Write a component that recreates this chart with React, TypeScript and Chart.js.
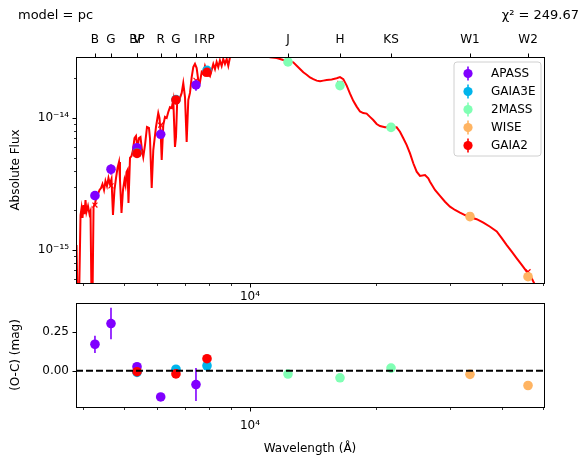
import React, { useEffect, useRef } from 'react';
import { Chart, registerables } from 'chart.js';

Chart.register(...registerables);

const FONT_FAMILY = "'DejaVu Sans', Verdana, sans-serif";
const TICK_SIZE = 12;
const TITLE_SIZE = 13;

// ---- axis ranges ----
const WAVE_MIN = 3844;
const WAVE_MAX = 50310;
const FLUX_MIN = 5.62e-16;
const FLUX_MAX = 2.9e-14;
const RES_MIN = -0.231;
const RES_MAX = 0.432;

// ---- ticks ----
const WAVE_TICKS = [10000];
const WAVE_TICK_LABELS = ['10⁴'];
const FLUX_TICKS = [1e-15, 1e-14];
const FLUX_TICK_LABELS = ['10⁻¹⁵', '10⁻¹⁴'];
const RES_TICKS = [0, 0.25];
const RES_TICK_LABELS = ['0.00', '0.25'];
const FILTER_NAMES = ['B', 'G', 'V', 'BP', 'R', 'G', 'I', 'RP', 'J', 'H', 'KS', 'W1', 'W2'];
const FILTER_WAVE = [4266, 4659, 5375, 5375, 6122, 6658, 7432, 7896, 12322, 16398, 21706, 33497, 46080];

// ---- texts ----
const MODEL_TEXT = 'model = pc';
const CHI2_TEXT = 'χ² = 249.67';
const Y_TITLE_TOP = 'Absolute Flux';
const Y_TITLE_BOTTOM = '(O-C) (mag)';
const X_TITLE = 'Wavelength (Å)';

// ---- surveys ----
const SURVEYS = ['APASS', 'GAIA3E', '2MASS', 'WISE', 'GAIA2'];
const SURVEY_COLORS = ['#8000ff', '#00b4eb', '#80ffb4', '#ffb462', '#ff0000'];

const APASS_WAVE = [4266, 4659, 5375, 6122, 7432];
const APASS_FLUX = [2.58e-15, 4.09e-15, 5.96e-15, 7.53e-15, 1.78e-14];
const APASS_FLUX_ERR = [0.13e-15, 0.38e-15, 0.11e-15, 0.14e-15, 1.7e-15];
const APASS_RES = [0.169, 0.301, 0.026, -0.167, -0.088];
const APASS_RES_ERR = [0.055, 0.1, 0.02, 0.015, 0.105];

const GAIA3E_WAVE = [5375, 6658, 7896];
const GAIA3E_FLUX = [5.45e-15, 1.38e-14, 2.3e-14];
const GAIA3E_FLUX_ERR = [0.03e-15, 0.05e-15, 0.1e-15];
const GAIA3E_RES = [-0.01, 0.01, 0.032];
const GAIA3E_RES_ERR = [0.005, 0.004, 0.005];

const TWOMASS_WAVE = [12322, 16398, 21706];
const TWOMASS_FLUX = [2.66e-14, 1.76e-14, 8.5e-15];
const TWOMASS_FLUX_ERR = [0.5e-15, 0.3e-15, 0.15e-15];
const TWOMASS_RES = [-0.021, -0.045, 0.017];
const TWOMASS_RES_ERR = [0.02, 0.02, 0.02];

const WISE_WAVE = [33497, 46080];
const WISE_FLUX = [1.79e-15, 6.27e-16];
const WISE_FLUX_ERR = [0.04e-15, 0.012e-15];
const WISE_RES = [-0.023, -0.094];
const WISE_RES_ERR = [0.02, 0.02];

const GAIA2_WAVE = [5375, 6658, 7896];
const GAIA2_FLUX = [5.4e-15, 1.37e-14, 2.22e-14];
const GAIA2_FLUX_ERR = [0.03e-15, 0.05e-15, 0.1e-15];
const GAIA2_RES = [-0.006, -0.02, 0.077];
const GAIA2_RES_ERR = [0.005, 0.004, 0.005];

// ---- model synthetic photometry (red crosses) ----
const MODEL_PHOT_WAVE = [4266, 4659, 5375, 6122, 6658, 7432, 7896, 12322, 16398, 21706, 33497, 46080];
const MODEL_PHOT_FLUX = [2.19e-15, 3.06e-15, 5.62e-15, 8.82e-15, 1.38e-14, 1.93e-14, 2.15e-14, 2.71e-14, 1.83e-14, 8.37e-15, 1.83e-15, 6.84e-16];

// ---- model spectrum (flux in units of 1e-15) ----
const FLUX_UNIT = 1e-15;
const MODEL_WAVE = [
  3855, 3877, 3909, 3941, 3963, 3984, 4006, 4027, 4050, 4072,
  4106, 4140, 4163, 4186, 4209, 4233, 4268, 4304, 4339, 4375,
  4411, 4446, 4484, 4520, 4557, 4595, 4633, 4672, 4710, 4749,
  4789, 4829, 4869, 4895, 4936, 4977, 5018, 5046, 5074, 5102,
  5129, 5172, 5215, 5258, 5301, 5345, 5389, 5434, 5479, 5524,
  5563, 5616, 5678, 5740, 5772, 5827, 5878, 5966, 6041, 6081,
  6122, 6156, 6210, 6268, 6327, 6383, 6443, 6503, 6561, 6622,
  6659, 6707, 6806, 6871, 6931, 6997, 7061, 7125, 7191, 7259,
  7323, 7391, 7460, 7526, 7597, 7668, 7737, 7809, 7883, 8027,
  8103, 8174, 8250, 8325, 8400, 8477, 8558, 8634, 8716, 8798,
  8876, 8961, 9059, 9260, 9465, 9730, 10000, 10278, 10565, 10859,
  11162, 11581, 12010, 12343, 12686, 12927, 13163, 13404, 13657, 13907,
  14162, 14429, 14694, 14961, 15241, 15665, 16103, 16399, 16700, 17014,
  17326, 17640, 17972, 18302, 18634, 18985, 19335, 19686, 20057, 20430,
  21000, 21583, 22393, 22803, 23222, 23660, 24093, 24530, 24992, 25451,
  26163, 26638, 26889, 27637, 28411, 29201, 30012, 30850, 31707, 32588,
  33498, 34755, 36058, 37400, 38803, 39883, 40994, 42140, 43313, 44517,
  45755, 47027, 47890, 49220,
];
const MODEL_FLUX = [
  1.09, 0.42, 0.42, 1.84, 2.08, 1.75, 2.19, 1.87, 2.39, 1.94,
  2.15, 1.87, 1.97, 0.42, 0.42, 2.12, 2.27, 2.52, 2.66, 2.85,
  2.95, 3.16, 2.85, 3.33, 3.05, 3.51, 3.16, 3.45, 1.84, 2.85,
  3.51, 4.18, 4.64, 3.39, 1.91, 2.85, 3.39, 3.11, 3.9, 4.04,
  2.27, 4.98, 5.15, 5.72, 7.05, 7.31, 5.93, 7.05, 7.18, 5.72,
  5.06, 6.24, 8.55, 8.4, 7.05, 2.95, 5.72, 8.55, 10.9, 10.0,
  7.7, 4.81, 8.85, 10.2, 10.0, 11.1, 12.1, 11.9, 13.7, 6.03,
  7.18, 14.2, 14.2, 15.5, 18.4, 14.4, 6.58, 13.7, 15.5, 20.4,
  24.3, 25.7, 23.9, 19.4, 18.7, 22.3, 21.5, 24.8, 22.7, 20.8,
  23.1, 25.7, 23.5, 26.6, 24.3, 27.3, 24.8, 28.0, 25.7, 28.0,
  24.9, 29.0, 30.5, 32.2, 31.1, 32.7, 31.6, 32.2, 31.1, 30.5,
  28.8, 28.5, 27.5, 27.0, 26.4, 24.9, 23.5, 22.2, 21.3, 20.3,
  19.7, 19.2, 19.0, 19.2, 19.4, 19.6, 20.0, 20.4, 19.7, 17.6,
  15.3, 13.5, 12.2, 11.2, 10.9, 10.8, 10.2, 9.66, 9.01, 8.7,
  8.5, 8.5, 8.5, 7.87, 7.02, 6.24, 5.4, 4.54, 3.92, 3.64,
  3.7, 3.49, 3.29, 2.85, 2.57, 2.32, 2.13, 2.01, 1.92, 1.84,
  1.77, 1.71, 1.61, 1.5, 1.38, 1.23, 1.09, 0.971, 0.865, 0.77,
  0.685, 0.61, 0.543, 0.456,
];

// ---------------------------------------------------------------
const tickFont = { family: FONT_FAMILY, size: TICK_SIZE };

function logTickValues(min: number, max: number) {
  const out: number[] = [];
  for (let e = Math.floor(Math.log10(min)); e <= Math.ceil(Math.log10(max)); e++) {
    for (let m = 1; m < 10; m++) {
      const v = m * Math.pow(10, e);
      if (v >= min && v <= max) out.push(v);
    }
  }
  return out;
}
function isPow10(v: number) {
  const l = Math.log10(v);
  return Math.abs(l - Math.round(l)) < 1e-9;
}
function seg(ctx: any, x1: number, y1: number, x2: number, y2: number) {
  ctx.beginPath();
  ctx.moveTo(x1, y1);
  ctx.lineTo(x2, y2);
  ctx.stroke();
}
function frameCoords(a: any) {
  return {
    L: Math.floor(a.left) + 0.5,
    R: Math.floor(a.right) + 0.5,
    T: Math.floor(a.top) + 0.5,
    B: Math.floor(a.bottom) + 0.5,
  };
}

const errorBarPlugin = {
  id: 'errorBars',
  beforeDatasetDraw(chart: any, args: any) {
    const ds = chart.data.datasets[args.index];
    if (!ds.errs) return;
    const { ctx, chartArea: a } = chart;
    const xs = chart.scales.x;
    const ys = chart.scales.y;
    ctx.save();
    ctx.beginPath();
    ctx.rect(a.left, a.top, a.right - a.left, a.bottom - a.top);
    ctx.clip();
    ctx.strokeStyle = ds.backgroundColor;
    ctx.lineWidth = 1.6;
    ds.data.forEach((p: any, i: number) => {
      const e = ds.errs[i];
      if (!e) return;
      const px = xs.getPixelForValue(p.x);
      seg(ctx, px, ys.getPixelForValue(p.y - e), px, ys.getPixelForValue(p.y + e));
    });
    ctx.restore();
  },
};

const topDecor = {
  id: 'topDecor',
  afterDraw(chart: any) {
    const { ctx, chartArea: a, scales } = chart;
    const { L, R, T, B } = frameCoords(a);
    ctx.save();
    ctx.strokeStyle = '#000';
    // bottom (wavelength) ticks
    logTickValues(WAVE_MIN, WAVE_MAX).forEach((v) => {
      const maj = isPow10(v);
      ctx.lineWidth = maj ? 1 : 0.8;
      const px = Math.round(scales.x.getPixelForValue(v)) + 0.5;
      seg(ctx, px, B, px, B + (maj ? 4 : 2.5));
    });
    // left (flux) ticks
    logTickValues(FLUX_MIN, FLUX_MAX).forEach((v) => {
      const maj = isPow10(v);
      ctx.lineWidth = maj ? 1 : 0.8;
      const py = Math.round(scales.y.getPixelForValue(v)) + 0.5;
      seg(ctx, L, py, L - (maj ? 4 : 2.5), py);
    });
    // top (filter) ticks
    ctx.lineWidth = 1;
    FILTER_WAVE.forEach((v) => {
      const px = Math.round(scales.x2.getPixelForValue(v)) + 0.5;
      seg(ctx, px, T, px, T - 4);
    });
    // frame
    ctx.lineWidth = 1;
    ctx.strokeRect(L, T, R - L, B - T);

    // legend
    const lw = 87;
    const lh = 94;
    const lx = a.right - lw - 3;
    const ly = a.top + 5;
    const r = 3;
    ctx.beginPath();
    ctx.moveTo(lx + r, ly);
    ctx.lineTo(lx + lw - r, ly);
    ctx.arcTo(lx + lw, ly, lx + lw, ly + r, r);
    ctx.lineTo(lx + lw, ly + lh - r);
    ctx.arcTo(lx + lw, ly + lh, lx + lw - r, ly + lh, r);
    ctx.lineTo(lx + r, ly + lh);
    ctx.arcTo(lx, ly + lh, lx, ly + lh - r, r);
    ctx.lineTo(lx, ly + r);
    ctx.arcTo(lx, ly, lx + r, ly, r);
    ctx.closePath();
    ctx.fillStyle = 'rgba(255,255,255,0.8)';
    ctx.fill();
    ctx.strokeStyle = '#d0d0d0';
    ctx.lineWidth = 1;
    ctx.stroke();
    ctx.font = `${TICK_SIZE}px ${FONT_FAMILY}`;
    ctx.textBaseline = 'middle';
    ctx.textAlign = 'left';
    SURVEYS.forEach((name, i) => {
      const cy = ly + 11.5 + i * 18;
      const mx = lx + 14;
      ctx.strokeStyle = SURVEY_COLORS[i];
      ctx.fillStyle = SURVEY_COLORS[i];
      ctx.lineWidth = 1.6;
      seg(ctx, mx, cy - 7, mx, cy + 7);
      ctx.beginPath();
      ctx.arc(mx, cy, 4.6, 0, Math.PI * 2);
      ctx.fill();
      ctx.fillStyle = '#000';
      ctx.fillText(name, lx + 37, cy + 0.5);
    });

    // figure texts
    ctx.font = `${TITLE_SIZE}px ${FONT_FAMILY}`;
    ctx.fillStyle = '#000';
    ctx.textBaseline = 'middle';
    ctx.textAlign = 'left';
    ctx.fillText(MODEL_TEXT, 18, 16);
    ctx.textAlign = 'right';
    ctx.fillText(CHI2_TEXT, 579, 16);
    ctx.restore();
  },
};

const bottomDecor = {
  id: 'bottomDecor',
  afterDraw(chart: any) {
    const { ctx, chartArea: a, scales } = chart;
    const { L, R, T, B } = frameCoords(a);
    ctx.save();
    ctx.strokeStyle = '#000';
    logTickValues(WAVE_MIN, WAVE_MAX).forEach((v) => {
      const maj = isPow10(v);
      ctx.lineWidth = maj ? 1 : 0.8;
      const px = Math.round(scales.x.getPixelForValue(v)) + 0.5;
      seg(ctx, px, B, px, B + (maj ? 4 : 2.5));
    });
    ctx.lineWidth = 1;
    RES_TICKS.forEach((v) => {
      const py = Math.round(scales.y.getPixelForValue(v)) + 0.5;
      seg(ctx, L, py, L - 4, py);
    });
    ctx.strokeRect(L, T, R - L, B - T);
    ctx.restore();
  },
};

function pointDataset(label: string, color: string, wave: number[], vals: number[], errs: number[], order: number) {
  return {
    label,
    data: wave.map((x, i) => ({ x, y: vals[i] })),
    errs,
    backgroundColor: color,
    borderColor: color,
    borderWidth: 0,
    pointRadius: 4.8,
    pointHoverRadius: 4.8,
    showLine: false,
    order,
  };
}

const baseOptions: any = {
  responsive: false,
  animation: false,
  devicePixelRatio: 1,
  events: [],
  plugins: { legend: { display: false }, tooltip: { enabled: false }, title: { display: false } },
};

function noGrid() {
  return { grid: { display: false, drawTicks: false }, border: { display: false } };
}

function topConfig(): any {
  return {
    type: 'scatter',
    data: {
      datasets: [
        {
          label: 'model',
          data: MODEL_WAVE.map((x, i) => ({ x, y: MODEL_FLUX[i] * FLUX_UNIT })),
          showLine: true,
          borderColor: '#ff0000',
          backgroundColor: '#ff0000',
          borderWidth: 2,
          pointRadius: 0,
          tension: 0,
          order: 10,
        },
        {
          label: 'model photometry',
          data: MODEL_PHOT_WAVE.map((x, i) => ({ x, y: MODEL_PHOT_FLUX[i] })),
          pointStyle: 'crossRot',
          pointRadius: 3.5,
          borderColor: '#ff0000',
          backgroundColor: '#ff0000',
          borderWidth: 1.2,
          showLine: false,
          order: 9,
        },
        pointDataset(SURVEYS[0], SURVEY_COLORS[0], APASS_WAVE, APASS_FLUX, APASS_FLUX_ERR, 5),
        pointDataset(SURVEYS[1], SURVEY_COLORS[1], GAIA3E_WAVE, GAIA3E_FLUX, GAIA3E_FLUX_ERR, 4),
        pointDataset(SURVEYS[2], SURVEY_COLORS[2], TWOMASS_WAVE, TWOMASS_FLUX, TWOMASS_FLUX_ERR, 3),
        pointDataset(SURVEYS[3], SURVEY_COLORS[3], WISE_WAVE, WISE_FLUX, WISE_FLUX_ERR, 2),
        pointDataset(SURVEYS[4], SURVEY_COLORS[4], GAIA2_WAVE, GAIA2_FLUX, GAIA2_FLUX_ERR, 1),
      ],
    },
    options: {
      ...baseOptions,
      layout: { padding: { left: 0, right: 36, top: 0, bottom: 146 } },
      scales: {
        x: {
          type: 'logarithmic',
          position: 'bottom',
          min: WAVE_MIN,
          max: WAVE_MAX,
          ...noGrid(),
          afterBuildTicks: (s: any) => { s.ticks = WAVE_TICKS.map((v) => ({ value: v })); },
          afterFit: (s: any) => { s.height = 30; },
          ticks: {
            autoSkip: false, maxRotation: 0, minRotation: 0, padding: 7, color: '#000', font: tickFont,
            callback: (_v: any, i: number) => WAVE_TICK_LABELS[i],
          },
        },
        x2: {
          type: 'logarithmic',
          position: 'top',
          axis: 'x',
          min: WAVE_MIN,
          max: WAVE_MAX,
          ...noGrid(),
          afterBuildTicks: (s: any) => { s.ticks = FILTER_WAVE.map((v) => ({ value: v })); },
          afterFit: (s: any) => { s.height = 57; },
          ticks: {
            autoSkip: false, maxRotation: 0, minRotation: 0, padding: 10, color: '#000', font: tickFont,
            callback: (_v: any, i: number) => FILTER_NAMES[i],
          },
        },
        y: {
          type: 'logarithmic',
          position: 'left',
          min: FLUX_MIN,
          max: FLUX_MAX,
          ...noGrid(),
          afterBuildTicks: (s: any) => { s.ticks = FLUX_TICKS.map((v) => ({ value: v })); },
          afterFit: (s: any) => { s.width = 76; },
          ticks: {
            autoSkip: false, padding: 7, color: '#000', font: tickFont,
            callback: (_v: any, i: number) => FLUX_TICK_LABELS[i],
          },
          title: {
            display: true, text: Y_TITLE_TOP, color: '#000', font: tickFont,
            padding: { top: 9, bottom: 0 },
          },
        },
      },
    },
    plugins: [errorBarPlugin, topDecor],
  };
}

function bottomConfig(): any {
  return {
    type: 'scatter',
    data: {
      datasets: [
        {
          label: 'zero',
          data: [{ x: WAVE_MIN, y: 0 }, { x: WAVE_MAX, y: 0 }],
          showLine: true,
          borderColor: '#000',
          borderWidth: 2,
          borderDash: [7, 3],
          pointRadius: 0,
          order: 0,
        },
        pointDataset(SURVEYS[0], SURVEY_COLORS[0], APASS_WAVE, APASS_RES, APASS_RES_ERR, 5),
        pointDataset(SURVEYS[1], SURVEY_COLORS[1], GAIA3E_WAVE, GAIA3E_RES, GAIA3E_RES_ERR, 4),
        pointDataset(SURVEYS[2], SURVEY_COLORS[2], TWOMASS_WAVE, TWOMASS_RES, TWOMASS_RES_ERR, 3),
        pointDataset(SURVEYS[3], SURVEY_COLORS[3], WISE_WAVE, WISE_RES, WISE_RES_ERR, 2),
        pointDataset(SURVEYS[4], SURVEY_COLORS[4], GAIA2_WAVE, GAIA2_RES, GAIA2_RES_ERR, 1),
      ],
    },
    options: {
      ...baseOptions,
      layout: { padding: { left: 0, right: 36, top: 303, bottom: 0 } },
      scales: {
        x: {
          type: 'logarithmic',
          position: 'bottom',
          min: WAVE_MIN,
          max: WAVE_MAX,
          ...noGrid(),
          afterBuildTicks: (s: any) => { s.ticks = WAVE_TICKS.map((v) => ({ value: v })); },
          afterFit: (s: any) => { s.height = 52; },
          ticks: {
            autoSkip: false, maxRotation: 0, minRotation: 0, padding: 12, color: '#000', font: tickFont,
            callback: (_v: any, i: number) => WAVE_TICK_LABELS[i],
          },
          title: {
            display: true, text: X_TITLE, color: '#000', font: tickFont,
            padding: { top: 0, bottom: 3 },
          },
        },
        y: {
          type: 'linear',
          position: 'left',
          min: RES_MIN,
          max: RES_MAX,
          ...noGrid(),
          afterBuildTicks: (s: any) => { s.ticks = RES_TICKS.map((v) => ({ value: v })); },
          afterFit: (s: any) => { s.width = 76; },
          ticks: {
            autoSkip: false, padding: 7, color: '#000', font: tickFont,
            callback: (_v: any, i: number) => RES_TICK_LABELS[i],
          },
          title: {
            display: true, text: Y_TITLE_BOTTOM, color: '#000', font: tickFont,
            padding: { top: 9, bottom: 0 },
          },
        },
      },
    },
    plugins: [errorBarPlugin, bottomDecor],
  };
}

export default function App() {
  const topRef = useRef<HTMLCanvasElement>(null);
  const botRef = useRef<HTMLCanvasElement>(null);
  useEffect(() => {
    const top = new Chart(topRef.current as HTMLCanvasElement, topConfig());
    const bot = new Chart(botRef.current as HTMLCanvasElement, bottomConfig());
    return () => {
      top.destroy();
      bot.destroy();
    };
  }, []);
  return (
    <div style={{ position: 'absolute', left: 0, top: 0, width: 580, height: 459, background: '#fff' }}>
      <canvas ref={topRef} width={580} height={459} style={{ position: 'absolute', left: 0, top: 0 }} />
      <canvas ref={botRef} width={580} height={459} style={{ position: 'absolute', left: 0, top: 0 }} />
    </div>
  );
}
